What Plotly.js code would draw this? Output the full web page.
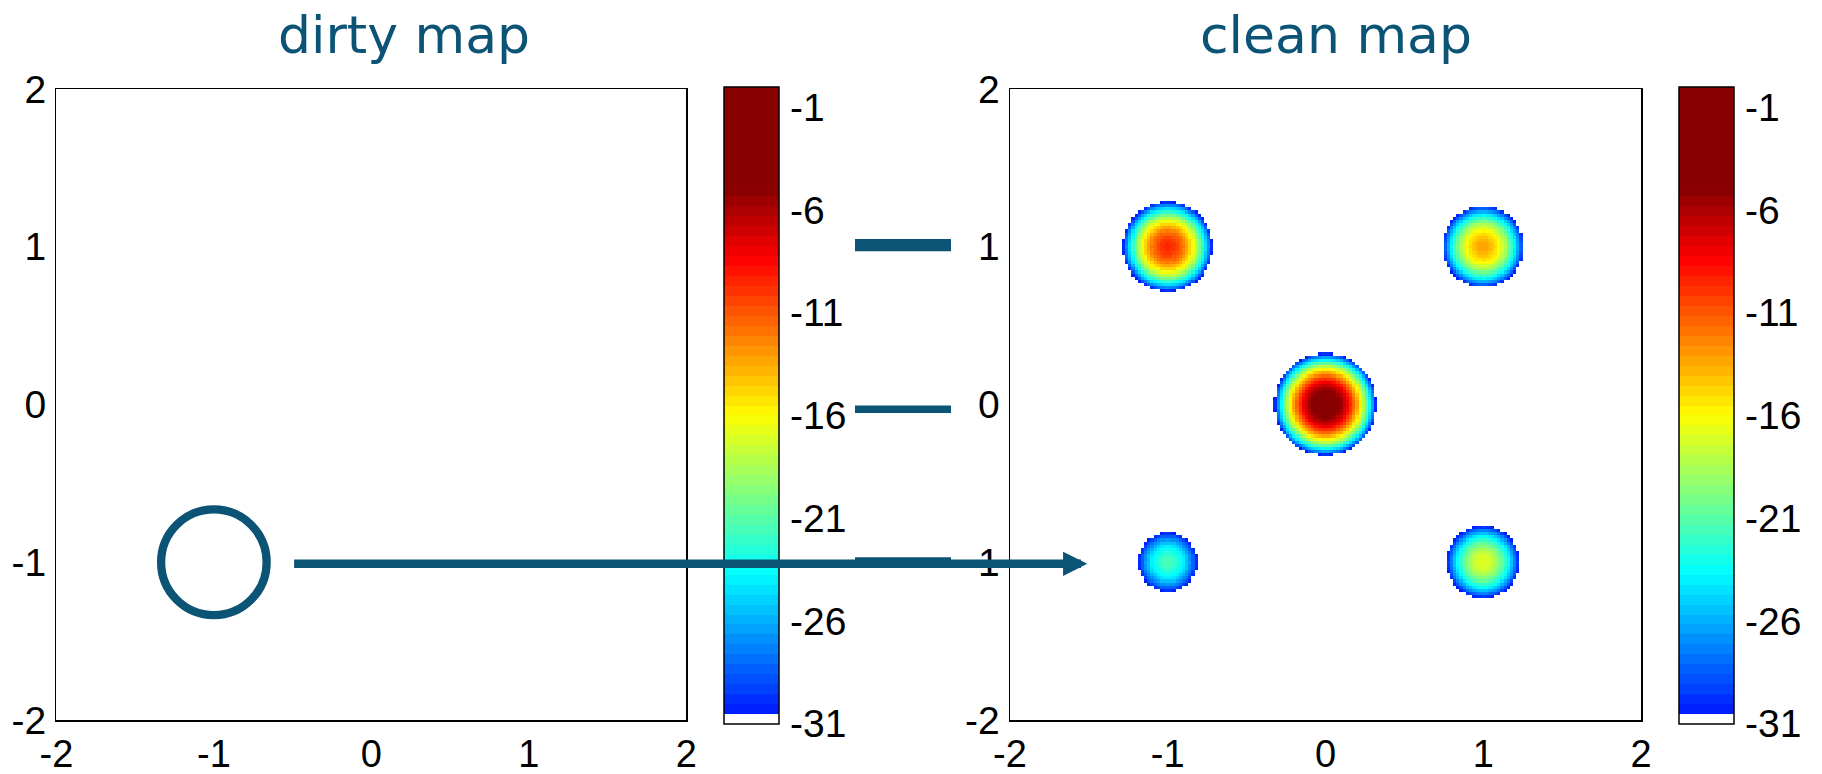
<!DOCTYPE html>
<html>
<head>
<meta charset="utf-8">
<script src="https://cdn.plot.ly/plotly-3.0.1.min.js"></script>
<style>
html,body{margin:0;padding:0;background:#ffffff;}
#chart{width:1822px;height:774px;}
</style>
</head>
<body>
<div id="chart"></div>
<script>
// ---- data ----
const sourceX = [-1, 1, 0, -1, 1];            // source positions (clean map)
const sourceY = [1, 1, 0, -1, -1];
const sourcePeakDb = [-9.5, -13.3, -3, -21.5, -16.9];   // peak level of each source, dB
const psfCurvatureDb = 260;                   // main-lobe drop, dB per unit^2
const floorDb = -31;                          // colour range bottom
const topDb = 0;                              // colour range top
const axisTicks = [-2, -1, 0, 1, 2];
const axisTickText = ['-2', '-1', '0', '1', '2'];
const cbarTicks = [-31, -26, -21, -16, -11, -6, -1];
const cbarTickText = ['-31', '-26', '-21', '-16', '-11', '-6', '-1'];
const panelTitles = ['dirty map', 'clean map'];
const markedSource = 3;                       // source circled in the dirty map
const markerRadius = 0.335;
const dashLevels = [1.01, -0.03, -1.0];       // short bars beside the clean map
const dashWidths = [12.3, 7.7, 10];

// ---- style / layout ----
const W = 1822, H = 774;
const TEAL = '#0B5475';
const gridStep = 0.02;
const xDirty = [56.4 / W, 686.3 / W];
const xClean = [1010 / W, 1641 / W];
const yDom = [1 - 720 / H, 1 - 89 / H];
const RANGE = [-2, 2];

function toPaper(dom, v) { return dom[0] + (v - RANGE[0]) / (RANGE[1] - RANGE[0]) * (dom[1] - dom[0]); }

// jet-like colormap (64 steps, lowest step white)
const jetStops = [[-31.2, [0, 0, 255]], [-23.6, [0, 255, 255]], [-16, [255, 255, 0]], [-8.4, [255, 0, 0]], [-5.0, [136, 0, 0]]];
function jet(v) {
  if (v <= jetStops[0][0]) return jetStops[0][1];
  for (let i = 1; i < jetStops.length; i++) {
    if (v <= jetStops[i][0]) {
      const a = jetStops[i - 1], b = jetStops[i];
      const t = (v - a[0]) / (b[0] - a[0]);
      return a[1].map((c, k) => Math.round(c + t * (b[1][k] - c)));
    }
  }
  return jetStops[jetStops.length - 1][1];
}
const nBins = 64;
const colorscale = [];
for (let i = 0; i < nBins; i++) {
  const center = floorDb + (i + 0.5) * (topDb - floorDb) / nBins;
  const c = i === 0 ? [255, 255, 255] : jet(center);
  const col = 'rgb(' + c.join(',') + ')';
  colorscale.push([i / nBins, col]);
  colorscale.push([(i + 1) / nBins, col]);
}

// clean map grid built from the source list
const gridX = [], gridY = [];
for (let i = 0; i <= Math.round((RANGE[1] - RANGE[0]) / gridStep); i++) {
  gridX.push(+(RANGE[0] + i * gridStep).toFixed(4));
  gridY.push(+(RANGE[0] + i * gridStep).toFixed(4));
}
const cleanZ = gridY.map(y => gridX.map(x => {
  let v = floorDb;
  for (let s = 0; s < sourceX.length; s++) {
    const d2 = (x - sourceX[s]) ** 2 + (y - sourceY[s]) ** 2;
    v = Math.max(v, sourcePeakDb[s] - psfCurvatureDb * d2);
  }
  return v;
}));
const dirtyZ = [[floorDb, floorDb], [floorDb, floorDb]];

const tickFont = {family: 'Liberation Sans, Arial, Helvetica, sans-serif', size: 39, color: '#000000'};
const xTickFont = {family: 'Liberation Sans, Arial, Helvetica, sans-serif', size: 38, color: '#000000'};

function cbar(leftPx) {
  return {
    x: leftPx / W, xanchor: 'left', xpad: 0,
    y: 1 - 723.7 / H, yanchor: 'bottom', ypad: 0,
    len: 637 / H, lenmode: 'fraction',
    thickness: 55, thicknessmode: 'pixels',
    outlinewidth: 1.5, outlinecolor: '#000000', borderwidth: 0,
    tickmode: 'array', tickvals: cbarTicks, ticktext: cbarTickText,
    ticks: 'outside', ticklen: 3, tickcolor: 'rgba(0,0,0,0)',
    tickfont: tickFont
  };
}

const traces = [
  {type: 'heatmap', x: RANGE, y: RANGE, z: dirtyZ, xaxis: 'x', yaxis: 'y',
   zmin: floorDb, zmax: topDb, colorscale: colorscale, colorbar: cbar(724.1), hoverinfo: 'skip'},
  {type: 'heatmap', x: gridX, y: gridY, z: cleanZ, xaxis: 'x2', yaxis: 'y2', zsmooth: false,
   zmin: floorDb, zmax: topDb, colorscale: colorscale, colorbar: cbar(1678.7), hoverinfo: 'skip'}
];

function axis(domain, anchor, isX) {
  return {
    domain: domain, anchor: anchor, range: RANGE.slice(),
    tickmode: 'array', tickvals: axisTicks, ticktext: axisTickText,
    showline: true, mirror: true, linecolor: '#000000', linewidth: 1.5,
    showgrid: false, zeroline: false, ticks: '', tickfont: isX ? xTickFont : tickFont,
    ticklabelstandoff: isX ? 0 : 1, fixedrange: true, automargin: false
  };
}

const shapes = [
  {type: 'circle', xref: 'x', yref: 'y',
   x0: sourceX[markedSource] - markerRadius, x1: sourceX[markedSource] + markerRadius,
   y0: sourceY[markedSource] - markerRadius, y1: sourceY[markedSource] + markerRadius,
   line: {color: TEAL, width: 8.3}, layer: 'above'}
];
dashLevels.forEach((lv, i) => {
  const yp = toPaper(yDom, lv);
  shapes.push({type: 'line', xref: 'paper', yref: 'paper', x0: 855 / W, x1: 951 / W, y0: yp, y1: yp,
               line: {color: TEAL, width: dashWidths[i]}, layer: 'above'});
});

const arrowTipX = toPaper(xClean, -1.51);
const arrowTailX = toPaper(xDirty, -0.5);
const arrowY = toPaper(yDom, -1.01);

const annotations = [
  {text: panelTitles[0], xref: 'paper', yref: 'paper', x: 404 / W, y: 1 - 35.3 / H,
   xanchor: 'center', yanchor: 'middle', showarrow: false,
   font: {family: 'DejaVu Sans, Verdana, sans-serif', size: 52, color: TEAL}},
  {text: panelTitles[1], xref: 'paper', yref: 'paper', x: 1336 / W, y: 1 - 35.3 / H,
   xanchor: 'center', yanchor: 'middle', showarrow: false,
   font: {family: 'DejaVu Sans, Verdana, sans-serif', size: 52, color: TEAL}},
  {text: '', xref: 'paper', yref: 'paper', x: arrowTipX, y: arrowY,
   axref: 'pixel', ayref: 'pixel', ax: (arrowTailX - arrowTipX) * W, ay: 0,
   showarrow: true, arrowhead: 2, arrowsize: 0.57, arrowwidth: 8.5, arrowcolor: TEAL, standoff: 0}
];

const layout = {
  width: W, height: H,
  margin: {l: 0, r: 0, t: 0, b: 0, pad: 0, autoexpand: false},
  paper_bgcolor: '#ffffff', plot_bgcolor: '#ffffff',
  showlegend: false,
  xaxis: axis(xDirty, 'y', true),
  yaxis: axis(yDom, 'x', false),
  xaxis2: axis(xClean, 'y2', true),
  yaxis2: axis(yDom, 'x2', false),
  shapes: shapes,
  annotations: annotations
};

Plotly.newPlot('chart', traces, layout, {staticPlot: true, displayModeBar: false});
</script>
</body>
</html>
